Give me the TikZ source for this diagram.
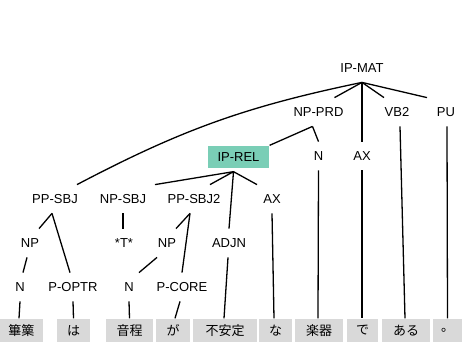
\documentclass[tikz,border=0pt]{standalone}
\usepackage{fontspec}
\setmainfont{Liberation Sans}
\newfontfamily\cjk{Noto Sans CJK JP}
\definecolor{relgreen}{RGB}{122,206,182}
\definecolor{wordgray}{RGB}{217,217,217}
\begin{document}
\begin{tikzpicture}[x=1pt,y=-1pt,line width=1.3pt,
    lbl/.style={inner xsep=2pt,inner ysep=9pt,text height=9.5pt,text depth=0pt,
        font=\fontsize{13}{15}\selectfont},
    relbox/.style={fill=relgreen,inner xsep=9.5pt,inner ysep=6.25pt,text height=9.5pt,
        text depth=0pt,font=\fontsize{13}{15}\selectfont},
    wbox/.style={fill=wordgray,inner sep=0pt,minimum height=23pt,
        font=\cjk\fontsize{13}{15}\selectfont}]
    \useasboundingbox (0,0) rectangle (463,342);
    \node[lbl] (ipmat) at (362,68) {IP-MAT};
    \node[lbl] (nppred) at (318.5,112) {NP-PRD};
    \node[lbl] (vb2) at (397,112) {VB2};
    \node[lbl] (pu) at (446,112) {PU};
    \node[relbox] (iprel) at (238.5,157) {IP-REL};
    \node[lbl] (n3) at (318.5,156) {N};
    \node[lbl] (ax1) at (362,156) {AX};
    \node[lbl] (ppsbj) at (55,199) {PP-SBJ};
    \node[lbl] (npsbj) at (123,199) {NP-SBJ};
    \node[lbl] (ppsbj2) at (194,199) {PP-SBJ2};
    \node[lbl] (ax2) at (272,199) {AX};
    \node[lbl] (np1) at (30,243) {NP};
    \node[lbl] (trace) at (124,243) {*T*};
    \node[lbl] (np2) at (167,243) {NP};
    \node[lbl] (adjn) at (229,243) {ADJN};
    \node[lbl] (n1) at (20,287) {N};
    \node[lbl] (poptr) at (73,287) {P-OPTR};
    \node[lbl] (n2) at (129,287) {N};
    \node[lbl] (pcore) at (182,287) {P-CORE};
    \foreach \x/\w/\t [count=\i] in {21.5/43/篳篥,73.5/33/は,129.5/47/音程,173/34/が,
        225/64/不安定,275.5/33/な,319/48/楽器,362.5/31/で,406/48/ある,447.5/29/。}
        \node[wbox,minimum width=\w pt] (w\i) at (\x,330.5) {\t};
    \draw (ipmat.south) to[bend right=8] ([xshift=22pt]ppsbj.north);
    \draw (ipmat.south) -- ([xshift=16pt]nppred.north);
    \draw (ipmat.south) -- (ax1.north);
    \draw (ipmat.south) -- ([xshift=-13pt]vb2.north);
    \draw (ipmat.south) -- ([xshift=-19pt]pu.north);
    \draw ([xshift=-6pt]nppred.south) -- (iprel.north east);
    \draw ([xshift=-6pt]nppred.south) -- (n3.north);
    \draw ([xshift=-5pt,yshift=-3pt]iprel.south) -- ([xshift=32pt]npsbj.north)
        ([xshift=-5pt,yshift=-3pt]iprel.south) -- ([xshift=16pt]ppsbj2.north)
        ([xshift=-5pt,yshift=-3pt]iprel.south) -- (adjn.north)
        ([xshift=-5pt,yshift=-3pt]iprel.south) -- ([xshift=-15pt]ax2.north);
    \draw ([xshift=-3pt]ppsbj.south) -- ([xshift=9pt]np1.north);
    \draw ([xshift=-3pt]ppsbj.south) -- ([xshift=-3pt]poptr.north);
    \draw (npsbj.south) -- ([xshift=-1pt]trace.north);
    \draw ([xshift=-4pt]ppsbj2.south) -- ([xshift=9pt]np2.north);
    \draw ([xshift=-4pt]ppsbj2.south) -- (pcore.north);
    \draw ([xshift=-3pt]np1.south) -- ([xshift=3pt]n1.north);
    \draw ([xshift=-10pt]np2.south) -- ([xshift=10pt]n2.north);
    \draw (n1.south) -- ([xshift=-2.5pt]w1.north);
    \draw (poptr.south) -- (w2.north);
    \draw (n2.south) -- (w3.north);
    \draw ([xshift=-2pt]pcore.south) -- ([xshift=2pt]w4.north);
    \draw ([xshift=-1pt]adjn.south) -- ([xshift=-1pt]w5.north);
    \draw (ax2.south) -- ([xshift=-1.5pt]w6.north);
    \draw (n3.south) -- ([xshift=-1pt]w7.north);
    \draw (ax1.south) -- ([xshift=-0.5pt]w8.north);
    \draw ([xshift=3pt]vb2.south) -- ([xshift=-1pt]w9.north);
    \draw ([xshift=1pt]pu.south) -- (w10.north);
\end{tikzpicture}
\end{document}
